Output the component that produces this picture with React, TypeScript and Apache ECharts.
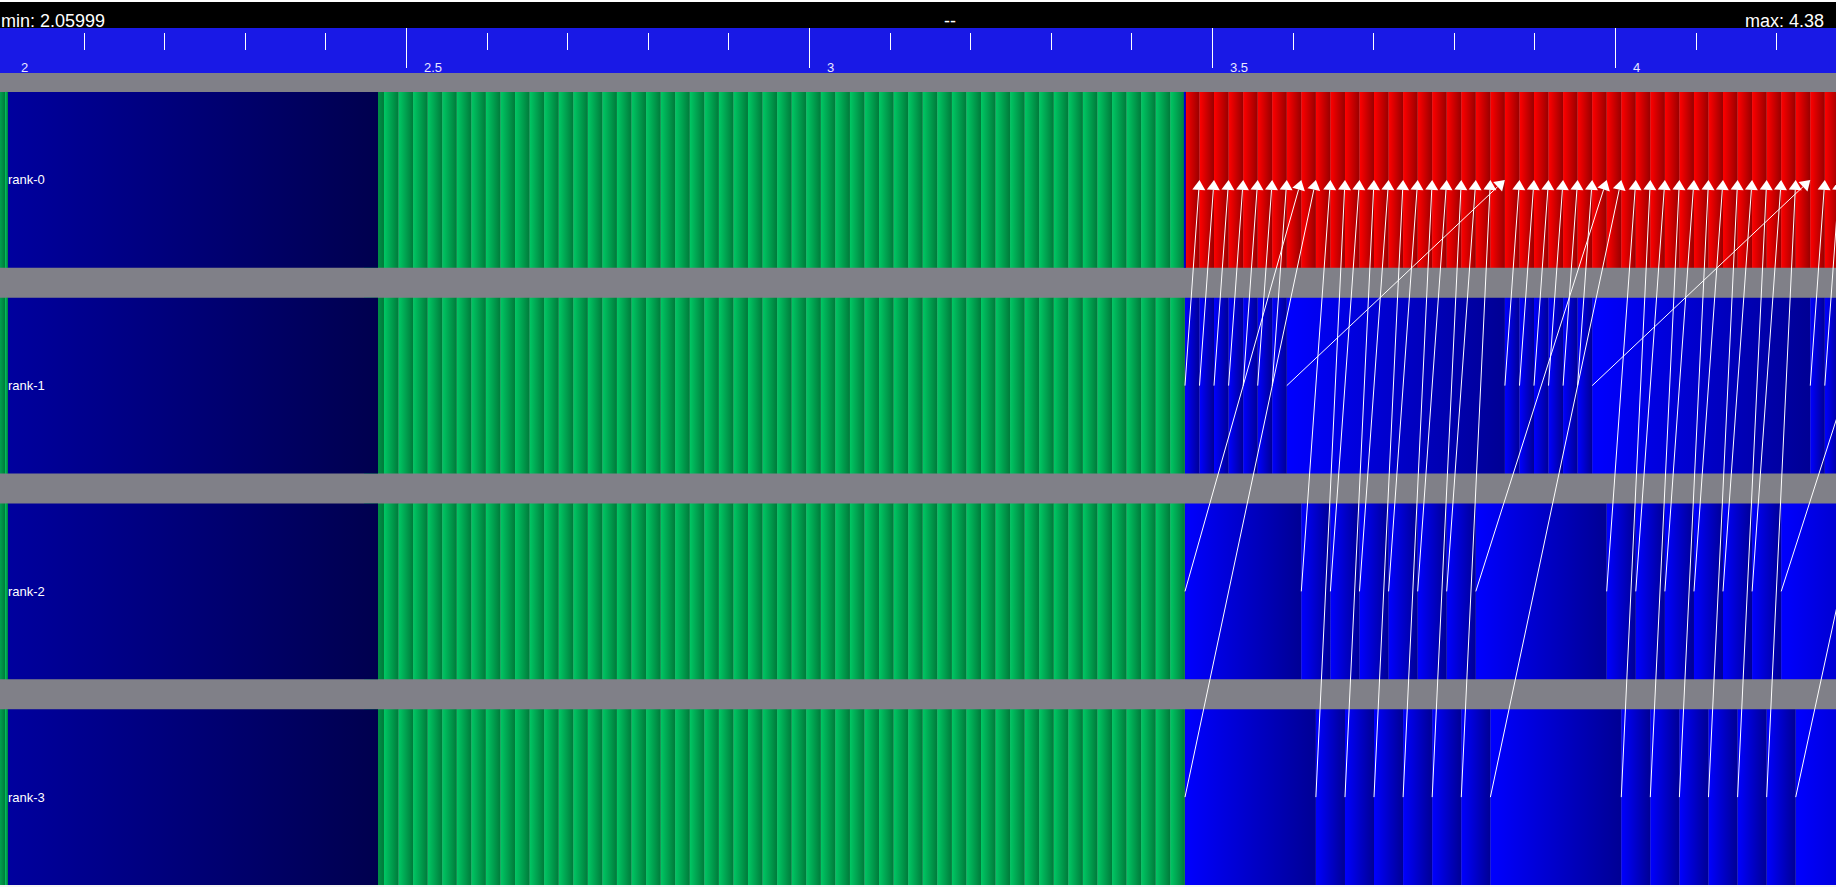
import React, { useEffect, useRef } from "react";
import * as echarts from "echarts";

const X_MIN = 1.99628;
const X_MAX = 4.2742;
const Y_MIN = -0.5;
const Y_MAX = 3.4368;
const RANKS = ["rank-0", "rank-1", "rank-2", "rank-3"];
const MAJOR_TICKS = [2, 2.5, 3, 3.5, 4];
const MAJOR_LABELS = ["2", "2.5", "3", "3.5", "4"];
const MINOR_TICKS = [2.1, 2.2, 2.3, 2.4, 2.6, 2.7, 2.8, 2.9, 3.1, 3.2, 3.3, 3.4, 3.6, 3.7, 3.8, 3.9, 4.1, 4.2];

const HEADER_MIN = "min: 2.05999";
const HEADER_MID = "--";
const HEADER_MAX = "max: 4.38";

// initial states shared by every rank: [kind, start, end]
const INIT_STATES: [string, number, number][] = [
  ["green", 1.99, 2.0025],
  ["green", 2.0025, 2.0062],
  ["green", 2.448, 2.4727],
  ["navy", 2.0062, 2.4653],
];

// green compute bars (consecutive pairs), same on every rank
const GREEN_BOUNDS = [
  2.4727, 2.4908, 2.5088, 2.5269, 2.545, 2.563, 2.5811, 2.5991, 2.6172, 2.6353, 2.6534, 2.6714, 2.6895, 2.7076,
  2.7256, 2.7437, 2.7617, 2.7798, 2.7979, 2.816, 2.834, 2.8521, 2.8702, 2.8882, 2.9063, 2.9243, 2.9424, 2.9605,
  2.9785, 2.9966, 3.0147, 3.0327, 3.0508, 3.0689, 3.0869, 3.105, 3.1231, 3.1411, 3.1592, 3.1773, 3.1953, 3.2134,
  3.2315, 3.2495, 3.2676, 3.2856, 3.3037, 3.3218, 3.3398, 3.3579, 3.376, 3.394, 3.4121, 3.4302, 3.4482, 3.4663,
];

// rank-0 receive bars (red)
const RANK0_BOUNDS = [
  3.4665, 3.4845, 3.5025, 3.5206, 3.5387, 3.5567, 3.5747, 3.5928, 3.6108, 3.6289, 3.6469, 3.665, 3.683, 3.701,
  3.7191, 3.7371, 3.7552, 3.7732, 3.7912, 3.8093, 3.8273, 3.8454, 3.8634, 3.8815, 3.8995, 3.9175, 3.9356, 3.9536,
  3.9717, 3.9897, 4.0078, 4.0258, 4.0438, 4.0619, 4.0799, 4.098, 4.116, 4.134, 4.1521, 4.1701, 4.1882, 4.2062,
  4.2242, 4.2423, 4.2603, 4.2784,
];
const RANK0_MARK: [number, number] = [3.4651, 3.4676];

// send bars (blue) on ranks 1..3
const RANK1_BOUNDS = [
  3.4665, 3.4845, 3.5025, 3.5206, 3.5387, 3.5567, 3.5747, 3.5928, 3.8634, 3.8815, 3.8995, 3.9175, 3.9356, 3.9536,
  3.9717, 4.2423, 4.2603, 4.2784,
];
const RANK2_BOUNDS = [
  3.4665, 3.6108, 3.6469, 3.683, 3.7191, 3.7552, 3.7912, 3.8273, 3.9897, 4.0258, 4.0619, 4.098, 4.134, 4.1701,
  4.2062, 4.37,
];
const RANK3_BOUNDS = [
  3.4665, 3.6289, 3.665, 3.701, 3.7371, 3.7732, 3.8093, 3.8454, 4.0078, 4.0438, 4.0799, 4.116, 4.1521, 4.1882,
  4.2242, 4.39,
];

// messages: [fromRank, sendTime, recvTime] (all received by rank-0)
const MESSAGES: [number, number, number][] = [
  [1, 3.4665, 3.4845], [1, 3.4845, 3.5025], [1, 3.5025, 3.5206], [1, 3.5206, 3.5387], [1, 3.5387, 3.5567],
  [1, 3.5567, 3.5747], [1, 3.5747, 3.5928], [1, 3.5928, 3.8634],
  [2, 3.4665, 3.6108], [3, 3.4665, 3.6289],
  [2, 3.6108, 3.6469], [2, 3.6469, 3.683], [2, 3.683, 3.7191], [2, 3.7191, 3.7552], [2, 3.7552, 3.7912],
  [2, 3.7912, 3.8273], [2, 3.8273, 3.9897],
  [3, 3.6289, 3.665], [3, 3.665, 3.701], [3, 3.701, 3.7371], [3, 3.7371, 3.7732], [3, 3.7732, 3.8093],
  [3, 3.8093, 3.8454], [3, 3.8454, 4.0078],
  [1, 3.8634, 3.8815], [1, 3.8815, 3.8995], [1, 3.8995, 3.9175], [1, 3.9175, 3.9356], [1, 3.9356, 3.9536],
  [1, 3.9536, 3.9717], [1, 3.9717, 4.2423],
  [2, 3.9897, 4.0258], [2, 4.0258, 4.0619], [2, 4.0619, 4.098], [2, 4.098, 4.134], [2, 4.134, 4.1701],
  [2, 4.1701, 4.2062], [2, 4.2062, 4.37],
  [3, 4.0078, 4.0438], [3, 4.0438, 4.0799], [3, 4.0799, 4.116], [3, 4.116, 4.1521], [3, 4.1521, 4.1882],
  [3, 4.1882, 4.2242], [3, 4.2242, 4.39],
  [1, 4.2423, 4.2603], [1, 4.2603, 4.2784],
];

const KINDS = ["green", "navy", "red", "blue"];
const GRADIENTS: Record<string, [string, string]> = {
  green: ["#00c864", "#007a3a"],
  navy: ["#00009e", "#00004e"],
  red: ["#ff0000", "#980000"],
  blue: ["#0000ff", "#000094"],
};

const FONT = '"Liberation Sans", Arial, sans-serif';

function buildStates() {
  const out: number[][] = [];
  const kindIdx = (k: string) => KINDS.indexOf(k);
  const pairs = (b: number[], r: number, k: string) => {
    for (let i = 0; i + 1 < b.length; i++) out.push([r, b[i], b[i + 1], kindIdx(k)]);
  };
  const sendBounds = [RANK0_BOUNDS, RANK1_BOUNDS, RANK2_BOUNDS, RANK3_BOUNDS];
  RANKS.forEach((_, r) => {
    INIT_STATES.forEach(([k, s, e]) => out.push([r, s, e, kindIdx(k)]));
    pairs(GREEN_BOUNDS, r, "green");
    pairs(sendBounds[r], r, r === 0 ? "red" : "blue");
  });
  out.push([0, RANK0_MARK[0], RANK0_MARK[1], kindIdx("blue")]);
  return out;
}

export default function App() {
  const ref = useRef<HTMLDivElement>(null);
  useEffect(() => {
    document.body.style.margin = "0";
    const chart = echarts.init(ref.current!, null, { renderer: "svg" });
    const states = buildStates();
    const option: any = {
      animation: false,
      backgroundColor: "#808088",
      grid: [
        { left: 0, right: 0, top: 77, bottom: 0, show: false },
        { left: 0, right: 0, top: 28, height: 45, show: true, backgroundColor: "#1919e6", borderWidth: 0 },
      ],
      xAxis: [
        { gridIndex: 0, type: "value", min: X_MIN, max: X_MAX, show: false },
        { gridIndex: 1, type: "value", min: X_MIN, max: X_MAX, show: false },
      ],
      yAxis: [
        { gridIndex: 0, type: "value", min: Y_MIN, max: Y_MAX, inverse: true, show: false },
        { gridIndex: 1, type: "value", min: 0, max: 45, inverse: true, show: false },
      ],
      graphic: [
        { type: "rect", z: 100, shape: { x: 0, y: 0, width: 1836, height: 2 }, style: { fill: "#ffffff" } },
        { type: "rect", z: 100, shape: { x: 0, y: 2, width: 1836, height: 26 }, style: { fill: "#000000" } },
        { type: "rect", z: 100, shape: { x: 0, y: 885, width: 1836, height: 2 }, style: { fill: "#f4f4f4" } },
        {
          type: "text", z: 101, x: 1, y: 21,
          style: { text: HEADER_MIN, fill: "#ffffff", fontSize: 18, fontFamily: FONT, verticalAlign: "middle", align: "left" },
        },
        {
          type: "text", z: 101, x: 944, y: 21,
          style: { text: HEADER_MID, fill: "#ffffff", fontSize: 18, fontFamily: FONT, verticalAlign: "middle", align: "left" },
        },
        {
          type: "text", z: 101, x: 1745, y: 21,
          style: { text: HEADER_MAX, fill: "#ffffff", fontSize: 18, fontFamily: FONT, verticalAlign: "middle", align: "left" },
        },
      ],
      series: [
        {
          type: "custom",
          name: "ticks",
          xAxisIndex: 1,
          yAxisIndex: 1,
          data: [
            ...MAJOR_TICKS.map((v, i) => [v, 1, i]),
            ...MINOR_TICKS.map((v) => [v, 0, -1]),
          ],
          encode: { x: 0, y: 1 },
          renderItem: (params: any, api: any) => {
            const v = api.value(0);
            const major = api.value(1) === 1;
            const top = api.coord([v, major ? 0 : 5]);
            const bot = api.coord([v, major ? 40 : 22]);
            const children: any[] = [];
            if (top[0] > 5) {
              children.push({
                type: "line",
                shape: { x1: Math.round(top[0]) + 0.5, y1: top[1], x2: Math.round(top[0]) + 0.5, y2: bot[1] },
                style: { stroke: "#ffffff", lineWidth: 1 },
              });
            }
            if (major) {
              const lp = api.coord([v, 39.5]);
              children.push({
                type: "text",
                x: Math.max(top[0] + 18, 18),
                y: lp[1],
                style: { text: MAJOR_LABELS[api.value(2)], fill: "#e8e8ff", fontSize: 13, fontFamily: FONT, verticalAlign: "middle", align: "left" },
              });
            }
            return { type: "group", children };
          },
        },
        {
          type: "custom",
          name: "states",
          xAxisIndex: 0,
          yAxisIndex: 0,
          data: states,
          encode: { x: [1, 2], y: 0 },
          renderItem: (params: any, api: any) => {
            const r = api.value(0);
            const p0 = api.coord([api.value(1), r]);
            const p1 = api.coord([api.value(2), r]);
            const h = api.size([0, 1])[1] * 0.855;
            const c = GRADIENTS[KINDS[api.value(3)]];
            return {
              type: "rect",
              shape: { x: p0[0], y: p0[1] - h / 2, width: p1[0] - p0[0], height: h },
              style: {
                fill: new echarts.graphic.LinearGradient(0, 0, 1, 0, [
                  { offset: 0, color: c[0] },
                  { offset: 1, color: c[1] },
                ]),
              },
            };
          },
        },
        {
          type: "custom",
          name: "messages",
          xAxisIndex: 0,
          yAxisIndex: 0,
          z: 5,
          data: MESSAGES,
          encode: { x: [1, 2], y: 0 },
          renderItem: (params: any, api: any) => {
            const p0 = api.coord([api.value(1), api.value(0)]);
            const p1 = api.coord([api.value(2), 0]);
            const dx = p1[0] - p0[0];
            const dy = p1[1] - p0[1];
            const len = Math.hypot(dx, dy);
            const ux = dx / len, uy = dy / len;
            const headLen = 10, headW = 6.5;
            const bx = p1[0] - ux * headLen, by = p1[1] - uy * headLen;
            const nx = -uy, ny = ux;
            return {
              type: "group",
              children: [
                { type: "line", shape: { x1: p0[0], y1: p0[1], x2: bx, y2: by }, style: { stroke: "#ffffff", lineWidth: 1 } },
                {
                  type: "polygon",
                  shape: { points: [[p1[0], p1[1]], [bx + nx * headW, by + ny * headW], [bx - nx * headW, by - ny * headW]] },
                  style: { fill: "#ffffff" },
                },
              ],
            };
          },
        },
        {
          type: "custom",
          name: "rankLabels",
          xAxisIndex: 0,
          yAxisIndex: 0,
          z: 10,
          data: RANKS.map((_, i) => [X_MIN, i]),
          encode: { x: 0, y: 1 },
          renderItem: (params: any, api: any) => {
            const p = api.coord([api.value(0), api.value(1)]);
            return {
              type: "text",
              x: p[0] + 8,
              y: p[1],
              style: { text: RANKS[params.dataIndex], fill: "#ffffff", fontSize: 13, fontFamily: FONT, verticalAlign: "middle", align: "left" },
            };
          },
        },
      ],
    };
    chart.setOption(option);
    return () => chart.dispose();
  }, []);
  return <div ref={ref} style={{ width: 1836, height: 887 }} />;
}
